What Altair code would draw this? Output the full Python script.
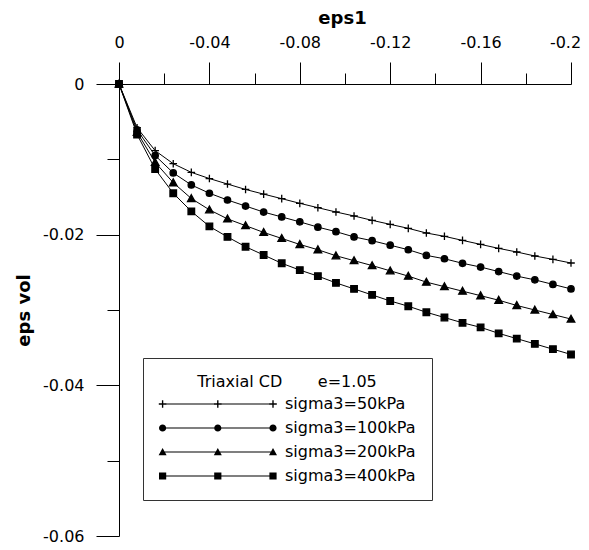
import altair as alt
import pandas as pd

# ---------------- data ----------------
eps1 = [0.0, -0.008, -0.016, -0.024, -0.032, -0.040, -0.048, -0.056, -0.064,
        -0.072, -0.080, -0.088, -0.096, -0.104, -0.112, -0.120, -0.128, -0.136,
        -0.144, -0.152, -0.160, -0.168, -0.176, -0.184, -0.192, -0.200]

s50 = [0.0, -0.0058, -0.00885, -0.01058, -0.01173, -0.01255, -0.01328, -0.0140,
       -0.01462, -0.01522, -0.01584, -0.01642, -0.01699, -0.01752, -0.0181,
       -0.01863, -0.01916, -0.01978, -0.02022, -0.02076, -0.02129, -0.02182,
       -0.0223, -0.02283, -0.02328, -0.02376]
s100 = [0.0, -0.0061, -0.0095, -0.0118, -0.0134, -0.0145, -0.0154, -0.0162,
        -0.0170, -0.01765, -0.0183, -0.0190, -0.0196, -0.0203, -0.0208, -0.0214,
        -0.0220, -0.02275, -0.0232, -0.0238, -0.0243, -0.0249, -0.0255, -0.0260,
        -0.0266, -0.0272]
s200 = [0.0, -0.0064, -0.0104, -0.0131, -0.0152, -0.0167, -0.0179, -0.0188,
        -0.0197, -0.0205, -0.0213, -0.0220, -0.0228, -0.02345, -0.0241, -0.0248,
        -0.0255, -0.0263, -0.0269, -0.0275, -0.0281, -0.0287, -0.0294, -0.0300,
        -0.0306, -0.0312]
s400 = [0.0, -0.0067, -0.0113, -0.0145, -0.0169, -0.0189, -0.0203, -0.0216,
        -0.0227, -0.0238, -0.0247, -0.0255, -0.0264, -0.0272, -0.0280, -0.0288,
        -0.0295, -0.0303, -0.0310, -0.0317, -0.0323, -0.0331, -0.0338, -0.0345,
        -0.0352, -0.0359]

series_names = ["sigma3=50kPa", "sigma3=100kPa", "sigma3=200kPa", "sigma3=400kPa"]
x_major = [0, -0.04, -0.08, -0.12, -0.16, -0.2]
x_minor = [-0.02, -0.06, -0.10, -0.14, -0.18]
y_major = [0, -0.02, -0.04, -0.06]
y_minor = [-0.01, -0.03, -0.05]
x_title = "eps1"
y_title = "eps vol"
legend_title = "Triaxial CD" + "\u00a0" * 7 + "e=1.05"

rows = []
for name, vals in zip(series_names, [s50, s100, s200, s400]):
    for e, v in zip(eps1, vals):
        rows.append({"eps1": e, "epsvol": v, "series": name})
df = pd.DataFrame(rows)

# ---------------- marker shapes (styling) ----------------
def rect(xa, xb, ya, yb):
    # clockwise rectangle
    return f"M{xa},{ya}H{xb}V{yb}H{xa}Z"

def plus_stroke(cx, r):
    return f"M{cx - r},0L{cx + r},0M{cx},{-r}L{cx},{r}"

def plus_fill(cx, r, t=0.17):
    return rect(cx - r, cx + r, -t, t) + rect(cx - t, cx + t, -r, r)

def circ(cx, r):
    return f"M{cx + r},0A{r},{r},0,1,1,{cx - r},0A{r},{r},0,1,1,{cx + r},0Z"

def tri(cx, r):
    return f"M{cx},{-r}L{cx + r},{0.8 * r}L{cx - r},{0.8 * r}Z"

def sq(cx, r):
    return rect(cx - r, cx + r, -r, r)

point_paths = [plus_stroke(0, 0.95), circ(0, 0.8), tri(0, 0.95), sq(0, 0.82)]

# legend symbol: line with three markers; 4 px per unit (size 64), all filled shapes
x0, x1 = -1.1, 26.5
xm = (x0 + x1) / 2
legend_fns = [plus_fill, circ, tri, sq]
legend_r = [0.95, 0.9, 1.0, 0.9]
legend_paths = []
for f, r in zip(legend_fns, legend_r):
    legend_paths.append(rect(x0, x1, -0.13, 0.13) + f(x0, r) + f(xm, r) + f(x1, r))

FONT = "DejaVu Sans"
label_expr = "datum.value == 0 ? '0' : '-' + format(-datum.value, '~g')"
last_tick = "datum.value < -0.19"

xscale = alt.Scale(domain=[0, -0.2], nice=False, zero=False)
yscale = alt.Scale(domain=[-0.06, 0], nice=False, zero=False)

x_main = alt.Axis(orient="top", values=x_major, tickSize=22, labelPadding=15,
                  labelBaseline="alphabetic", labelExpr=label_expr, labelFont=FONT,
                  labelFontSize=16, labelColor="black", labelFlush=False,
                  labelOffset={"condition": {"test": last_tick, "value": -6}, "value": 0},
                  labelOverlap=False, grid=False, domainColor="black",
                  tickColor="black", title=x_title, titleFont=FONT,
                  titleFontSize=18, titleFontWeight="bold", titleColor="black",
                  titleX=223, titleY=-61, titleBaseline="alphabetic",
                  titleAlign="center")
y_main = alt.Axis(orient="left", values=y_major, tickSize=23, labelPadding=12,
                  labelExpr=label_expr, labelFont=FONT, labelFontSize=16,
                  labelColor="black", labelFlush=False, labelOverlap=False,
                  grid=False, domainColor="black", tickColor="black",
                  title=y_title, titleFont=FONT, titleFontSize=18,
                  titleFontWeight="bold", titleColor="black", titleX=-90,
                  titleY=226, titleAngle=270, titleBaseline="alphabetic",
                  titleAlign="center")
x_min_ax = alt.Axis(orient="top", values=x_minor, tickSize=11, labels=False,
                    domain=False, grid=False, tickColor="black", title=None)
y_min_ax = alt.Axis(orient="left", values=y_minor, tickSize=12, labels=False,
                    domain=False, grid=False, tickColor="black", title=None)

base = alt.Chart(df)

lines = base.mark_line(color="black", strokeWidth=1).encode(
    x=alt.X("eps1:Q", scale=xscale, axis=x_main),
    y=alt.Y("epsvol:Q", scale=yscale, axis=y_main),
    detail="series:N",
)

points = base.mark_point(filled=True, color="black", stroke="black",
                         strokeWidth=1.3, opacity=1, size=64).encode(
    x=alt.X("eps1:Q", scale=xscale, axis=x_min_ax),
    y=alt.Y("epsvol:Q", scale=yscale, axis=y_min_ax),
    shape=alt.Shape("series:N", scale=alt.Scale(domain=series_names, range=point_paths),
                    legend=None),
)

legend_layer = base.transform_filter("false").mark_point(
    filled=True, color="black", opacity=1, size=64
).encode(
    x=alt.X("eps1:Q", scale=xscale, axis=None),
    y=alt.Y("epsvol:Q", scale=yscale, axis=None),
    shape=alt.Shape(
        "series:N",
        scale=alt.Scale(domain=series_names, range=legend_paths),
        legend=alt.Legend(
            orient="none", legendX=24, legendY=274, title=legend_title,
            titleFont=FONT, titleFontSize=16, titleFontWeight="normal",
            titleColor="black", titleAnchor="middle", titleLimit=400,
            titlePadding=6, labelFont=FONT, labelFontSize=16, labelColor="black",
            labelOffset=110, labelLimit=400, rowPadding=8, padding=16,
            labelExpr="datum.label + '\u00a0\u00a0'",
            strokeColor="#333333", fillColor="white", symbolSize=64,
            symbolFillColor="black", symbolOpacity=1,
        ),
    ),
)

chart = alt.layer(lines, points, legend_layer).resolve_scale(
    shape="independent"
).resolve_axis(x="independent", y="independent").properties(
    width=452, height=452,
    autosize=alt.AutoSizeParams(type="none"),
    padding={"left": 111, "top": 76, "right": 10, "bottom": 8},
).configure_view(stroke=None)

chart.save("out.html", embed_options={"renderer": "svg", "actions": False})
